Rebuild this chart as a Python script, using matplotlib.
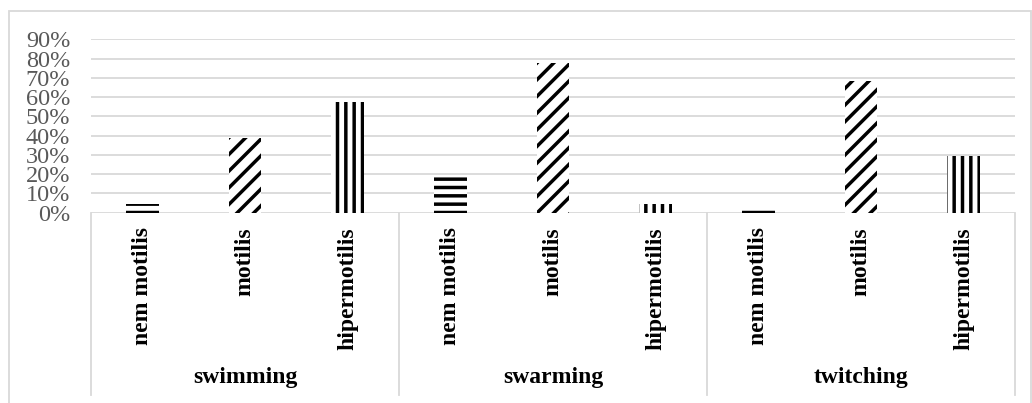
import matplotlib
matplotlib.use("Agg")
import matplotlib.pyplot as plt
import matplotlib.transforms as mtransforms
from matplotlib.lines import Line2D
from matplotlib.patches import Rectangle

groups = ["swimming", "swarming", "twitching"]
levels = ["nem motilis", "motilis", "hipermotilis"]
swimming = [0.045, 0.385, 0.572]
swarming = [0.183, 0.775, 0.046]
twitching = [0.013, 0.683, 0.295]
yticks = [0.0, 0.1, 0.2, 0.3, 0.4, 0.5, 0.6, 0.7, 0.8, 0.9]
ytick_labels = ["0%", "10%", "20%", "30%", "40%", "50%", "60%", "70%", "80%", "90%"]

hatches = ["--", "//", "||"]
grid_color = "#d9d9d9"
fontsize = 17

plt.rcParams["font.family"] = ["Liberation Serif", "DejaVu Serif"]
plt.rcParams["hatch.linewidth"] = 2.5

W, H = 1032, 403
fig = plt.figure(figsize=(W / 100, H / 100), dpi=100)
ax = fig.add_axes([91 / W, 1 - 212.5 / H, (1015 - 91) / W, (212.5 - 39.3) / H])

values = [swimming, swarming, twitching]
x = 0
for gi, vals in enumerate(values):
    for li, v in enumerate(vals):
        ax.bar(x, v, width=0.32, color="white", edgecolor="black",
               linewidth=0, hatch=hatches[li], zorder=3)
        x += 1

ax.set_xlim(-0.5, 8.5)
ax.set_ylim(0, 0.9)
ax.set_yticks(yticks)
ax.set_yticklabels(ytick_labels, fontsize=17.5, color="#595959")
ax.tick_params(axis="y", length=0, pad=15)
ax.set_xticks([])
ax.yaxis.grid(True, color=grid_color, linewidth=1.3, zorder=0)
ax.set_axisbelow(True)
for s in ax.spines.values():
    s.set_visible(False)

trans = mtransforms.blended_transform_factory(ax.transData, fig.transFigure)

# category labels
x = 0
for gi, g in enumerate(groups):
    for li, lv in enumerate(levels):
        ax.text(x, 1 - 227 / H, lv, transform=trans, rotation=90,
                ha="center", va="top", fontsize=fontsize, fontweight="bold")
        x += 1
    ax.text(gi * 3 + 1, 1 - 383 / H, g, transform=trans, ha="center",
            va="baseline", fontsize=fontsize, fontweight="bold")

# group separators below the axis
for xs in [-0.5, 2.5, 5.5, 8.5]:
    fig.add_artist(Line2D([xs, xs], [1 - 212.5 / H, 1 - 395 / H], transform=trans,
                          color=grid_color, linewidth=1.3))

# chart border
fig.add_artist(Rectangle((9 / W, -0.1), (1031 - 9) / W, 1.1 - 11 / H,
                         transform=fig.transFigure, fill=False,
                         edgecolor=grid_color, linewidth=1.3))

fig.savefig("out.png", dpi=100)
